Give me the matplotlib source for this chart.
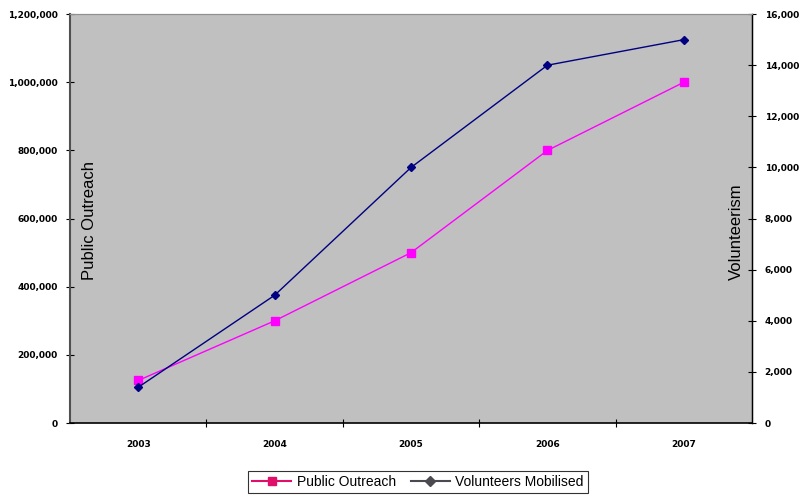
import matplotlib
matplotlib.use("Agg")
import matplotlib.pyplot as plt
from matplotlib.lines import Line2D
from matplotlib.ticker import FuncFormatter
import numpy as np

# data
years = ["2003", "2004", "2005", "2006", "2007"]
public_outreach = [125000, 300000, 500000, 800000, 1000000]
volunteers = [1400, 5000, 10000, 14000, 15000]

x = np.arange(len(years))
fmt = FuncFormatter(lambda v, p: f"{int(v):,}")

fig = plt.figure(figsize=(8.11, 4.96), dpi=100)
ax = fig.add_axes([0.0863, 0.147, 0.841, 0.8246])
ax.set_facecolor("#C0C0C0")
ax2 = ax.twinx()

ax.plot(x, public_outreach, color="#FF00FF", lw=1, marker="s", ms=6, zorder=3)
ax2.plot(x, volunteers, color="#000080", lw=1, marker="D", ms=4.5, zorder=3)

ax.set_xlim(-0.5, 4.5)
ax.set_ylim(0, 1200000)
ax2.set_ylim(0, 16000)
ax.set_yticks(np.arange(0, 1200001, 200000))
ax2.set_yticks(np.arange(0, 16001, 2000))
ax.yaxis.set_major_formatter(fmt)
ax2.yaxis.set_major_formatter(fmt)

ax.set_xticks(x)
ax.set_xticklabels(years)
ax.set_xticks(np.arange(0.5, 4.5, 1), minor=True)
ax.tick_params(axis="x", which="major", length=0, pad=12)
ax.tick_params(axis="x", which="minor", length=6, direction="inout", width=0.8)

for a in (ax, ax2):
    a.tick_params(axis="y", length=6, direction="inout", width=0.8, pad=6)
    for lab in a.get_yticklabels() + a.get_xticklabels():
        lab.set_fontsize(6.5)
        lab.set_fontweight("bold")

ax.spines["top"].set_color("#909090")
ax2.spines["top"].set_color("#909090")
ax.spines["left"].set_color("#505050")
ax.spines["left"].set_linewidth(1.5)
ax2.spines["left"].set_visible(False)
ax.spines["bottom"].set_linewidth(1.2)
ax2.spines["bottom"].set_visible(False)
ax2.spines["right"].set_linewidth(1)

ax.text(0.029, 0.496, "Public Outreach", transform=ax.transAxes, rotation=90,
        ha="center", va="center", fontsize=12, family="Liberation Sans")
ax.text(0.977, 0.467, "Volunteerism", transform=ax.transAxes, rotation=90,
        ha="center", va="center", fontsize=12, family="Liberation Sans")

handles = [
    Line2D([], [], color="#E0106A", marker="s", ms=6, lw=1.5),
    Line2D([], [], color="#4A4A50", marker="D", ms=5, lw=1.5),
]
leg = fig.legend(handles, ["Public Outreach", "Volunteers Mobilised"],
                 loc="center", bbox_to_anchor=(418 / 811, 1 - 482 / 496),
                 ncol=2, frameon=True, fancybox=False, edgecolor="black",
                 handlelength=2.8, columnspacing=1.1,
                 borderpad=0.3, handletextpad=0.4,
                 prop={"family": "Liberation Sans", "size": 10})
leg.get_frame().set_linewidth(0.8)

fig.savefig("out.png", dpi=100)
